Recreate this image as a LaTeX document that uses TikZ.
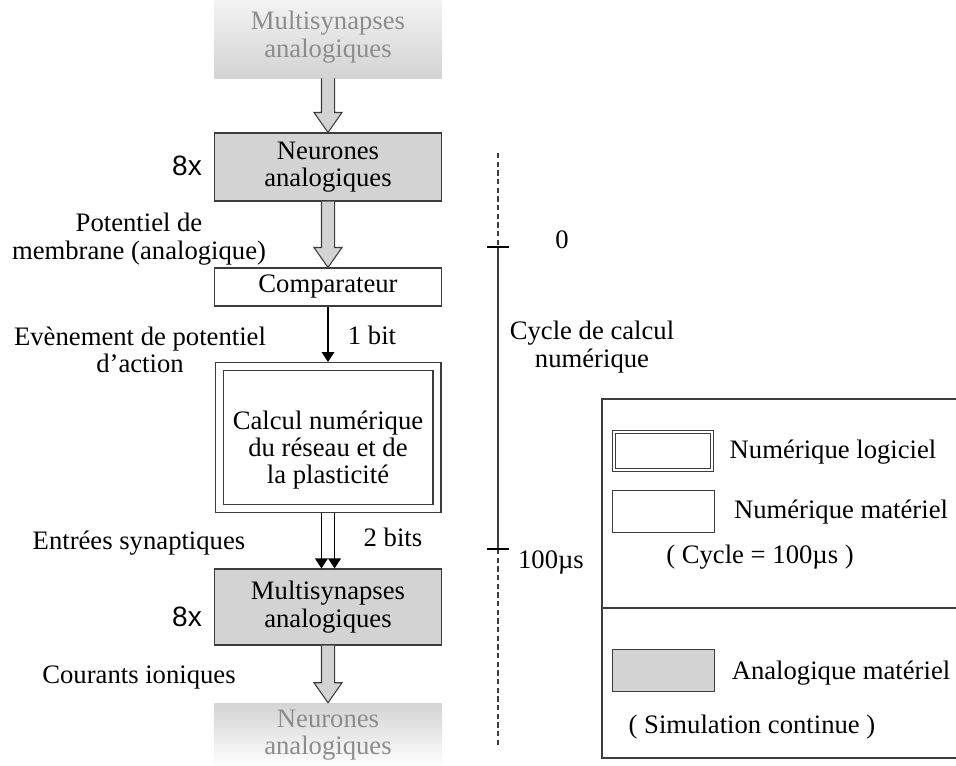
\documentclass[tikz,border=0pt]{standalone}
\usepackage{fontspec}
\setmainfont{Liberation Serif}
\newfontfamily\arialfont{Liberation Sans}
\usetikzlibrary{calc,arrows.meta}

\definecolor{boxgray}{HTML}{D3D3D3}
\definecolor{edgegray}{HTML}{3C3C3C}
\definecolor{fadetext}{HTML}{8C8C8C}

\tikzset{
  block/.style={draw=edgegray, line width=0.8pt, minimum width=170.25pt, inner sep=0pt, align=center},
  anablock/.style={block, fill=boxgray},
  numblock/.style={block, fill=white},
  softblock/.style={block, fill=white, double=white, double distance=5.2pt, outer sep=3.4pt,
    minimum width=163.45pt, minimum height=106.45pt},
  fadeblock/.style={minimum width=170.25pt, inner sep=0pt, align=center, text=fadetext},
  lbl/.style={inner sep=0pt, align=center},
  mult/.style={inner sep=0pt, font=\arialfont\fontsize{21}{21}\selectfont},
  fatarrow/.style={draw=edgegray, line width=0.8pt, fill=boxgray, line join=miter},
  bitedge/.style={line width=0.8pt, -{Triangle[length=7.5pt,width=9.5pt]}},
  timeline/.style={draw=edgegray, line width=0.8pt},
  tick/.style={line width=1.6pt},
  legbox/.style={draw=edgegray, line width=0.6pt, minimum width=76.5pt, minimum height=31.5pt, inner sep=0pt},
}

% hollow arrow between two nodes
\newcommand{\fatedge}[2]{%
  \draw[fatarrow] ($(#1.south)+(-4.9pt,0)$) -- ($(#2.north)+(-4.9pt,15pt)$)
    -- ($(#2.north)+(-10.5pt,15pt)$) -- (#2.north) -- ($(#2.north)+(10.5pt,15pt)$)
    -- ($(#2.north)+(4.9pt,15pt)$) -- ($(#1.south)+(4.9pt,0)$);}

\begin{document}
\begin{tikzpicture}[x=0.75pt, y=-0.75pt, font=\fontsize{20}{20.5}\selectfont]
  \useasboundingbox (0,0) rectangle (956,765);

  % Define nodes
  \node[fadeblock, minimum height=61.5pt, top color=black!4, bottom color=boxgray] (msyntop) at (328,37) {Multisynapses\\analogiques};
  \node[anablock, minimum height=51pt]  (neur) at (328,167) {Neurones\\analogiques};
  \node[numblock, minimum height=28.5pt] (comp) at (328,287) {Comparateur};
  \node[softblock] (calc) at (328,437.5) {};
  \node[lbl] (calctxt) at (328,450) {Calcul numérique\\du réseau et de\\la plasticité};
  \node[anablock, minimum height=57pt]  (msyn) at (328,607) {Multisynapses\\analogiques};
  \node[fadeblock, minimum height=48pt, top color=boxgray, bottom color=white] (neurbot) at (328,735) {Neurones\\analogiques};

  \node[mult] (mult1) at (187,166) {8x};
  \node[mult] (mult2) at (187,617) {8x};

  \node[lbl] (pot)  at (139,239) {Potentiel de\\membrane (analogique)};
  \node[lbl] (evt)  at (140,350) {Evènement de potentiel\\d’action};
  \node[lbl] (bit1) at (372,335) {1 bit};
  \node[lbl] (ent)  at (139,543) {Entrées synaptiques};
  \node[lbl] (bit2) at (393,537) {2 bits};
  \node[lbl] (cour) at (139,677) {Courants ioniques};

  % Connect the nodes
  \fatedge{msyntop}{neur}
  \fatedge{neur}{comp}
  \draw[bitedge] (comp) -- (calc);
  \draw[bitedge] ($(calc.south)+(-4.9pt,0)$) -- ($(msyn.north)+(-4.9pt,0)$);
  \draw[bitedge] ($(calc.south)+(4.9pt,0)$) -- ($(msyn.north)+(4.9pt,0)$);
  \fatedge{msyn}{neurbot}

  % Time axis
  \coordinate (ttop) at (498,153);
  \coordinate (t0)   at (498,247);
  \coordinate (t1)   at (498,549);
  \coordinate (tbot) at (498,745);
  \draw[timeline, dash pattern=on 4pt off 2.5pt] (ttop) -- (t0);
  \draw[timeline] (t0) -- (t1);
  \draw[timeline, dash pattern=on 4pt off 2.5pt] (t1) -- (tbot);
  \draw[tick] ($(t0)+(-8.25pt,0)$) -- ($(t0)+(8.25pt,0)$);
  \draw[tick] ($(t1)+(-8.25pt,0)$) -- ($(t1)+(8.25pt,0)$);
  \node[lbl] (zero)  at (562,240) {0};
  \node[lbl] (hundr) at (551,562) {100µs};
  \node[lbl] (cyc)   at (592,347) {Cycle de calcul\\numérique};

  % Legend
  \draw[draw=edgegray, line width=0.8pt] (957,399) -- (602,399) -- (602,758) -- (957,758);
  \draw[draw=edgegray, line width=0.8pt] (602,608) -- (957,608);
  \node[legbox, double=white, double distance=2pt, minimum width=73.3pt, minimum height=28.3pt] (legsoft) at (663,451) {};
  \node[legbox, fill=white] (leghw) at (663,511.5) {};
  \node[legbox, fill=boxgray] (legana) at (663,670.5) {};
  \node[lbl] (legsofttxt) at (833,452) {Numérique logiciel};
  \node[lbl] (leghwtxt)   at (841,512) {Numérique matériel};
  \node[lbl] (legcyc)     at (760,557) {( Cycle = 100µs )};
  \node[lbl] (leganatxt)  at (841,673) {Analogique matériel};
  \node[lbl] (legsim)     at (752,727) {( Simulation continue )};

\end{tikzpicture}
\end{document}
